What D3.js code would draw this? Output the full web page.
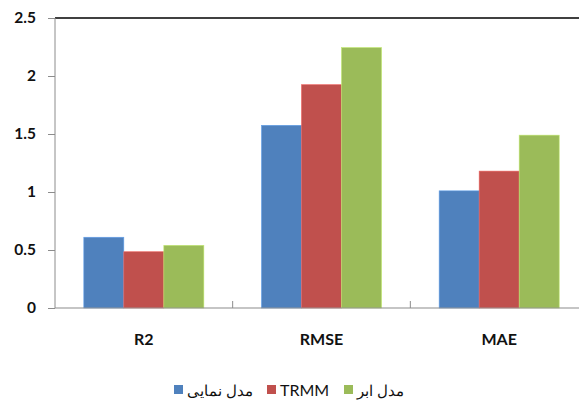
<!DOCTYPE html>
<html><head><meta charset="utf-8">
<script src="https://cdn.jsdelivr.net/npm/d3@7"></script>
<style>
html,body{margin:0;padding:0;background:#fff;}
svg{display:block;}
</style></head>
<body>
<svg id="c" width="579" height="400"></svg>
<script>
const categories = ["R2", "RMSE", "MAE"];
const seriesNames = ["مدل نمایی", "TRMM", "مدل ابر"];
const seriesColors = ["#4F81BD", "#C0504D", "#9BBB59"];
const exponentialModel = [0.61, 1.575, 1.01];
const trmm = [0.485, 1.925, 1.18];
const cloudModel = [0.54, 2.245, 1.49];
const yTicks = [0, 0.5, 1, 1.5, 2, 2.5];
const yTickLabels = ["0", "0.5", "1", "1.5", "2", "2.5"];

const seriesValues = [exponentialModel, trmm, cloudModel];
const svg = d3.select("#c");
const pLeft = 55, pRight = 588, pTop = 18, pBottom = 308;
const font = "Lato, 'Open Sans', sans-serif";

const x0 = d3.scaleBand().domain(categories).range([pLeft, pRight]).padding(0);
const x1 = d3.scaleBand().domain(seriesNames).range([0, x0.bandwidth()]).paddingInner(0).paddingOuter(0.72);
const y = d3.scaleLinear().domain([0, 2.5]).range([pBottom, pTop]);

// top border line
svg.append("line").attr("x1", pLeft).attr("x2", 579).attr("y1", y(2.5)).attr("y2", y(2.5))
  .attr("stroke", "#000").attr("stroke-width", 1.6);

// bars
const g = svg.append("g");
categories.forEach((c, ci) => {
  seriesNames.forEach((s, si) => {
    const v = seriesValues[si][ci];
    g.append("rect")
      .attr("x", x0(c) + x1(s))
      .attr("y", y(v))
      .attr("width", x1.bandwidth())
      .attr("height", y(0) - y(v))
      .attr("fill", seriesColors[si])
      .attr("stroke", d3.color(seriesColors[si]).brighter(0.6))
      .attr("stroke-width", 0.6);
  });
});

// y axis
const yAxis = d3.axisLeft(y).tickValues(yTicks).tickFormat((d, i) => yTickLabels[i]).tickSize(7).tickPadding(12);
const ya = svg.append("g").attr("transform", `translate(${pLeft},0)`).call(yAxis);
ya.select(".domain").attr("stroke", "#8c8c8c").attr("d", `M0,${pTop}V${pBottom}`);
ya.selectAll(".tick line").attr("stroke", "#8c8c8c");
ya.selectAll(".tick text").attr("font-family", font).attr("font-weight", "bold")
  .attr("font-size", 15.5).attr("fill", "#111");

// x axis
const xa = svg.append("g").attr("transform", `translate(0,${pBottom})`);
xa.append("line").attr("x1", pLeft).attr("x2", 579).attr("y1", 0).attr("y2", 0)
  .attr("stroke", "#8c8c8c").attr("stroke-width", 1.2);
categories.slice(1).forEach(c => {
  xa.append("line").attr("x1", x0(c)).attr("x2", x0(c)).attr("y1", 0).attr("y2", -7)
    .attr("stroke", "#8c8c8c");
});
categories.forEach(c => {
  xa.append("text").attr("x", x0(c) + x0.bandwidth() / 2).attr("y", 37)
    .attr("text-anchor", "middle").attr("font-family", font).attr("font-weight", "bold")
    .attr("font-size", 16).attr("fill", "#111").text(c);
});

// legend
const legendX = [174, 267, 344];
const leg = svg.append("g");
seriesNames.forEach((s, i) => {
  leg.append("rect").attr("x", legendX[i]).attr("y", 385).attr("width", 9).attr("height", 9)
    .attr("fill", seriesColors[i]);
  leg.append("text").attr("x", legendX[i] + 13).attr("y", 395.5)
    .attr("font-family", i === 1 ? font : "'Noto Sans', sans-serif")
    .attr("font-size", i === 1 ? 16 : 15).attr("fill", "#111")
    .text(s);
});
</script>
</body></html>
